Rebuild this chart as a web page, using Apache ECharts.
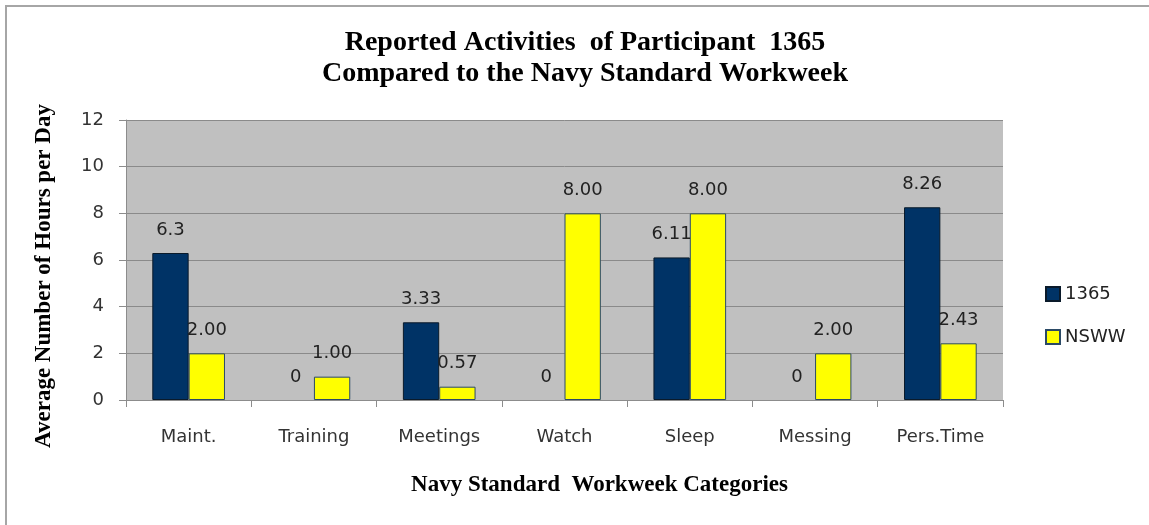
<!DOCTYPE html>
<html>
<head>
<meta charset="utf-8">
<title>Reported Activities of Participant 1365</title>
<script src="https://cdn.jsdelivr.net/npm/echarts@6/dist/echarts.min.js"></script>
<style>
  html, body { margin: 0; padding: 0; background: #fff; }
  #chart { width: 1149px; height: 525px; }
</style>
</head>
<body>
<div id="chart"></div>
<script>
// chart data
const categories = ['Maint.', 'Training', 'Meetings', 'Watch', 'Sleep', 'Messing', 'Pers.Time']
const participant = [6.3, 0, 3.33, 0, 6.11, 0, 8.26]
const nsww = [2.00, 1.00, 0.57, 8.00, 8.00, 2.00, 2.43]
const seriesNames = ['1365', 'NSWW']

const labelFont = 'DejaVu Sans'
const serifFont = '"Liberation Serif", "DejaVu Serif", serif'

// zero bars get no outline, like the original
const withOutline = (values, border) => values.map(v => ({
  value: v,
  itemStyle: { borderWidth: v === 0 ? 0 : border }
}))

const chart = echarts.init(document.getElementById('chart'))

chart.setOption({
  animation: false,
  title: {
    text: 'Reported Activities  of Participant  1365\nCompared to the Navy Standard Workweek',
    left: 580,
    textAlign: 'center',
    top: 22,
    textStyle: {
      fontFamily: serifFont,
      fontWeight: 'bold',
      fontSize: 28,
      lineHeight: 31,
      color: '#000'
    }
  },
  graphic: [{
    type: 'rect',
    shape: { x: 6, y: 6, width: 1160, height: 540 },
    style: { fill: 'none', stroke: '#a6a6a6', lineWidth: 2 },
    silent: true
  }],
  legend: {
    data: seriesNames,
    orient: 'vertical',
    left: 1040,
    top: 280,
    itemWidth: 14,
    itemHeight: 14,
    itemGap: 25,
    icon: 'rect',
    textStyle: { fontFamily: labelFont, fontSize: 18, color: '#222' }
  },
  grid: {
    left: 126,
    right: 146,
    top: 120,
    bottom: 125
  },
  xAxis: {
    type: 'category',
    data: categories,
    name: 'Navy Standard  Workweek Categories',
    nameLocation: 'middle',
    nameGap: 74,
    nameTextStyle: {
      fontFamily: serifFont,
      fontWeight: 'bold',
      fontSize: 23,
      color: '#000',
      padding: [0, 0, 0, 70]
    },
    axisLine: { lineStyle: { color: '#8c8c8c', width: 1 } },
    axisTick: { show: true, length: 7, lineStyle: { color: '#8c8c8c' } },
    axisLabel: {
      margin: 28,
      fontFamily: labelFont,
      fontSize: 18,
      color: '#333'
    }
  },
  yAxis: {
    type: 'value',
    min: 0,
    max: 12,
    interval: 2,
    name: 'Average Number of Hours per Day',
    nameLocation: 'middle',
    nameGap: 70,
    nameTextStyle: {
      fontFamily: serifFont,
      fontWeight: 'bold',
      fontSize: 23,
      color: '#000',
      padding: [0, 32, 0, 0]
    },
    axisLine: { show: true, lineStyle: { color: '#8c8c8c', width: 1 } },
    axisTick: { show: true, length: 7, lineStyle: { color: '#8c8c8c' } },
    axisLabel: {
      margin: 22,
      fontFamily: labelFont,
      fontSize: 18,
      color: '#333'
    },
    splitLine: { lineStyle: { color: '#8a8a8a', width: 1 } },
    splitArea: { show: true, areaStyle: { color: ['#c0c0c0', '#c0c0c0'] } }
  },
  series: [
    {
      name: seriesNames[0],
      type: 'bar',
      data: withOutline(participant, 1),
      barGap: '0%',
      barCategoryGap: '42%',
      itemStyle: { color: '#003366', borderColor: '#0a1a2a', borderWidth: 1 },
      label: {
        show: true,
        position: 'top',
        distance: 14,
        fontFamily: labelFont,
        fontSize: 18,
        color: '#222',
        formatter: p => String(p.value)
      }
    },
    {
      name: seriesNames[1],
      type: 'bar',
      data: nsww,
      barGap: '0%',
      barCategoryGap: '42%',
      itemStyle: { color: '#ffff00', borderColor: '#2b4a66', borderWidth: 1 },
      label: {
        show: true,
        position: 'top',
        distance: 14,
        fontFamily: labelFont,
        fontSize: 18,
        color: '#222',
        formatter: p => p.value.toFixed(2)
      }
    }
  ]
})
</script>
</body>
</html>
